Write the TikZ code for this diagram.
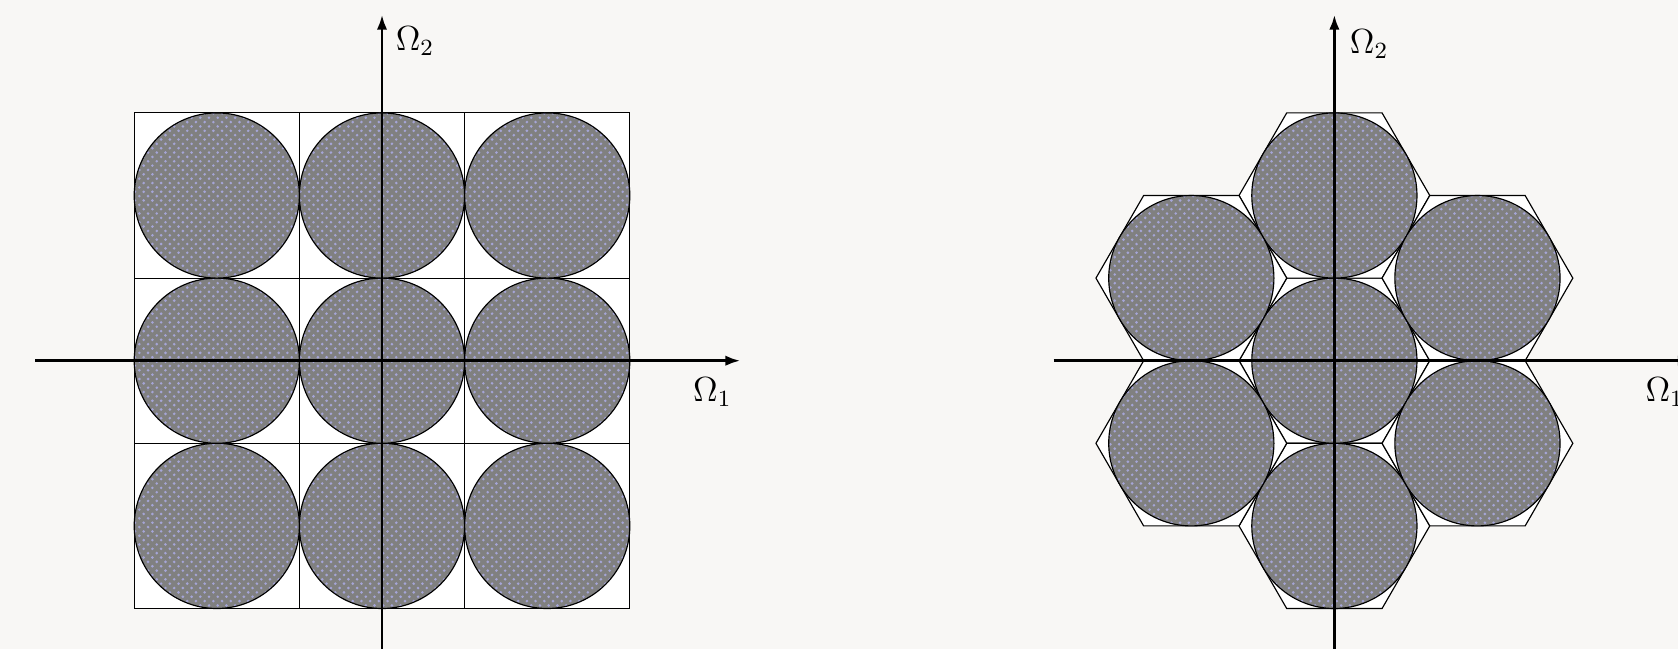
\documentclass[tikz,border=0pt]{standalone}
\usepackage{amsmath}
\usetikzlibrary{arrows.meta,patterns}
\definecolor{paper}{RGB}{248,247,245}
\colorlet{discgray}{gray}
\definecolor{dotblue}{RGB}{165,165,215}
\tikzset{
  cell/.style={draw,fill=white},
  disc/.style={draw,preaction={fill=discgray},pattern=crosshatch dots,pattern color=dotblue},
  axis/.style={line width=1pt,->},
  axlabel/.style={font=\large}
}
\begin{document}
\begin{tikzpicture}[>={Latex[length=5.2pt,width=3.6pt]}]
\useasboundingbox[fill=paper] (-4.625,-3.49) rectangle (15.69,4.367);
% square packing
\foreach \i in {-1,0,1}{
 \foreach \j in {-1,0,1}{
  \draw[cell] ({2*\i-1},{2*\j-1}) rectangle ({2*\i+1},{2*\j+1});
 }}
\foreach \i in {-1,0,1}{
 \foreach \j in {-1,0,1}{
  \draw[disc] (2*\i,2*\j) circle (1);
 }}
\draw[axis] (-4.2,0) -- (4.34,0);
\draw[axis] (0,-3.6) -- (0,4.19);
\node[axlabel] (sqom1) at (4.0,-0.38) {$\Omega_1$};
\node[axlabel] (sqom2) at (0.40,3.87) {$\Omega_2$};
% hexagonal packing
\begin{scope}[shift={(11.53,0)}]
 \def\h{1.1547}
 \foreach \x/\y in {0/0, 0/2, 0/-2, 1.732/1, 1.732/-1, -1.732/1, -1.732/-1}{
  \draw[cell] (\x,\y) +(0:\h) -- +(60:\h) -- +(120:\h) -- +(180:\h) -- +(240:\h) -- +(300:\h) -- cycle;
 }
 \foreach \x/\y in {0/0, 0/2, 0/-2, 1.732/1, 1.732/-1, -1.732/1, -1.732/-1}{
  \draw[disc] (\x,\y) circle (1);
 }
 \draw[axis] (-3.4,0) -- (4.34,0);
 \draw[axis] (0,-3.6) -- (0,4.19);
 \node[axlabel] (hxom1) at (4.0,-0.38) {$\Omega_1$};
 \node[axlabel] (hxom2) at (0.42,3.83) {$\Omega_2$};
\end{scope}
\end{tikzpicture}
\end{document}
